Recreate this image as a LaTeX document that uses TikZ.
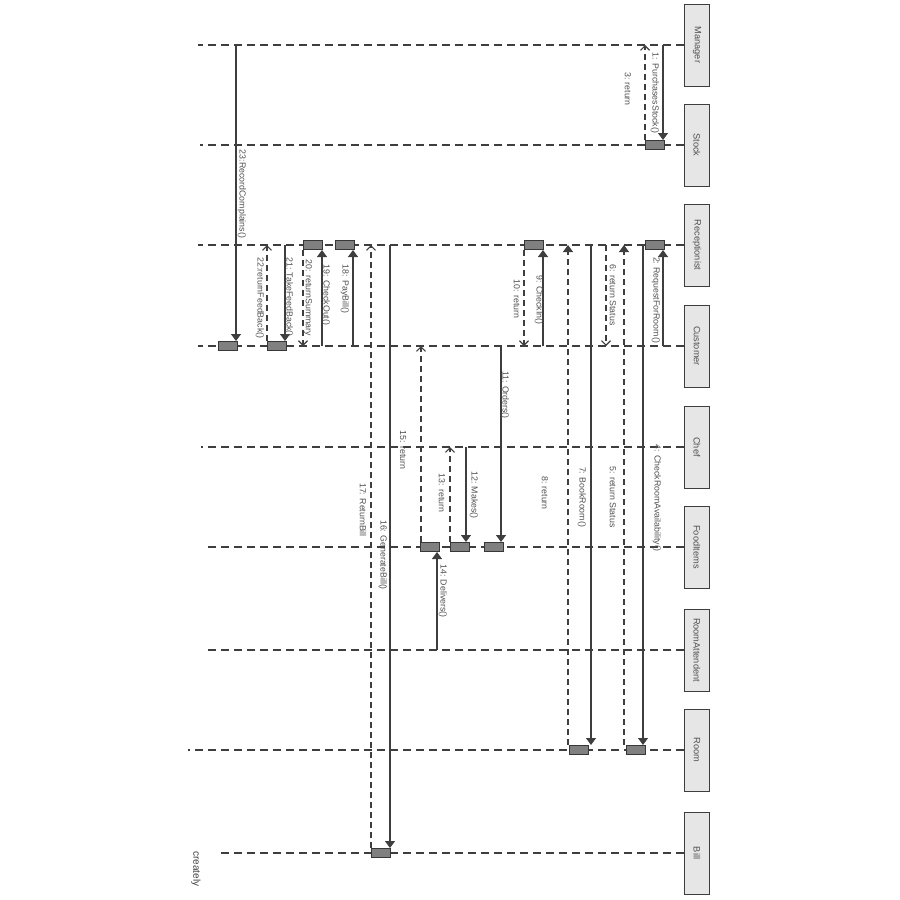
\documentclass[tikz,border=0pt]{standalone}
\usepackage{fontspec}
\setmainfont{Liberation Sans}
\definecolor{SeqBox}{RGB}{230,230,230}
\definecolor{SeqLine}{RGB}{62,62,62}
\definecolor{SeqDark}{RGB}{55,55,55}
\definecolor{SeqAct}{RGB}{128,128,128}
\definecolor{SeqText}{RGB}{80,80,80}
\usetikzlibrary{
    arrows.meta,
    positioning,
}

\begin{document}
\begin{tikzpicture}[x=1pt, y=-1pt,
    actor/.style={rectangle, draw=SeqLine, fill=SeqBox, line width=1pt, minimum width=82pt, minimum height=25pt, rotate=-90, font=\fontsize{9.2}{10}\selectfont, text=SeqText},
    act/.style={rectangle, draw=SeqDark, fill=SeqAct, line width=1pt, minimum width=19pt, minimum height=9pt, inner sep=0pt},
    life/.style={draw=SeqLine, line width=1.1pt, dash pattern=on 8pt off 5pt},
    call/.style={draw=SeqLine, line width=1.1pt, -{Triangle[width=10pt,length=7pt]}},
    ret/.style={draw=SeqLine, line width=1.1pt, dash pattern=on 6pt off 4pt, -{Straight Barb[width=9pt,length=4.5pt]}},
    retfull/.style={draw=SeqLine, line width=1.1pt, dash pattern=on 6pt off 4pt, -{Triangle[width=10pt,length=7pt]}},
    lbl/.style={rotate=-90, font=\fontsize{8.8}{10}\selectfont, text=SeqText, inner sep=0pt}
]
    \useasboundingbox (0,0) rectangle (900,900);
    % participants
    \node[actor] (manager) at (697,45)  {Manager};
    \node[actor] (stock)   at (697,145) {Stock};
    \node[actor] (recep)   at (697,245) {Receptionist};
    \node[actor] (customer) at (697,346) {Customer};
    \node[actor] (chef)    at (697,447) {Chef};
    \node[actor] (food)    at (697,547) {FoodItems};
    \node[actor] (attend)  at (697,650) {RoomAttendent};
    \node[actor] (room)    at (697,750) {Room};
    \node[actor] (bill)    at (697,853) {Bill};
    % lifelines
    \coordinate (manager-end) at (198,45);
    \coordinate (stock-end) at (200,145);
    \coordinate (recep-end) at (198,245);
    \coordinate (customer-end) at (198,346);
    \coordinate (chef-end) at (201,447);
    \coordinate (food-end) at (205,547);
    \coordinate (attend-end) at (208,650);
    \coordinate (room-end) at (188,750);
    \coordinate (bill-end) at (219,853);
    \draw[life] (manager.south) -- (manager-end);
    \draw[life] (stock.south) -- (stock-end);
    \draw[life] (recep.south) -- (recep-end);
    \draw[life] (customer.south) -- (customer-end);
    \draw[life] (chef.south) -- (chef-end);
    \draw[life] (food.south) -- (food-end);
    \draw[life] (attend.south) -- (attend-end);
    \draw[life] (room.south) -- (room-end);
    \draw[life] (bill.south) -- (bill-end);
    % activations
    \node[act] (a1)  at (654.5,0 |- stock.south) {};
    \node[act] (a2)  at (654.5,0 |- recep.south) {};
    \node[act] (a4)  at (635.5,0 |- room.south) {};
    \node[act] (a7)  at (578.5,0 |- room.south) {};
    \node[act] (a9)  at (533.5,0 |- recep.south) {};
    \node[act] (a11) at (493.5,0 |- food.south) {};
    \node[act] (a12) at (459.5,0 |- food.south) {};
    \node[act] (a14) at (430,0 |- food.south) {};
    \node[act] (a16) at (380.5,0 |- bill.south) {};
    \node[act] (a18) at (344.5,0 |- recep.south) {};
    \node[act] (a19) at (312.5,0 |- recep.south) {};
    \node[act] (a21) at (276.5,0 |- customer.south) {};
    \node[act] (a23) at (227.5,0 |- customer.south) {};
    % messages
    \draw[call] (663,0 |- manager.south) -- (663,0 |- a1.north);
    \draw[ret] (645,0 |- a1.north) -- (645,0 |- manager.south);
    \draw[call] (663,0 |- customer.south) -- (663,0 |- a2.south);
    \draw[call] (643,0 |- recep.south) -- (643,0 |- a4.north);
    \draw[retfull] (624,0 |- a4.north) -- (624,0 |- recep.south);
    \draw[ret] (606,0 |- recep.south) -- (606,0 |- customer.south);
    \draw[call] (591,0 |- recep.south) -- (591,0 |- a7.north);
    \draw[retfull] (568,0 |- a7.north) -- (568,0 |- recep.south);
    \draw[call] (543,0 |- customer.south) -- (543,0 |- a9.south);
    \draw[ret] (524,0 |- a9.south) -- (524,0 |- customer.south);
    \draw[call] (501,0 |- customer.south) -- (501,0 |- a11.north);
    \draw[call] (466,0 |- chef.south) -- (466,0 |- a12.north);
    \draw[ret] (450,0 |- a12.north) -- (450,0 |- chef.south);
    \draw[call] (437,0 |- attend.south) -- (437,0 |- a14.south);
    \draw[ret] (421,0 |- a14.north) -- (421,0 |- customer.south);
    \draw[call] (390,0 |- recep.south) -- (390,0 |- a16.north);
    \draw[ret] (371,0 |- a16.north) -- (371,0 |- recep.south);
    \draw[call] (353,0 |- customer.south) -- (353,0 |- a18.south);
    \draw[call] (322,0 |- customer.south) -- (322,0 |- a19.south);
    \draw[ret] (303,0 |- a19.south) -- (303,0 |- customer.south);
    \draw[call] (285,0 |- recep.south) -- (285,0 |- a21.north);
    \draw[ret] (267,0 |- a21.north) -- (267,0 |- recep.south);
    \draw[call] (236,0 |- manager.south) -- (236,0 |- a23.north);
    % message labels
    \node[lbl] (l1)  at (655,93)  {1: PurchasesStock()};
    \node[lbl] (l2)  at (656,300) {2: RequestForRoom()};
    \node[lbl] (l3)  at (628,89)  {3: return};
    \node[lbl] (l4)  at (657,498) {4: CheckRoomAvailability()};
    \node[lbl] (l5)  at (613,497) {5: return Status};
    \node[lbl] (l6)  at (613,295) {6: return Status};
    \node[lbl] (l7)  at (582,497) {7: BookRoom()};
    \node[lbl] (l8)  at (545,493) {8: return};
    \node[lbl] (l9)  at (539,300) {9: CheckIn()};
    \node[lbl] (l10) at (517,299) {10: return};
    \node[lbl] (l11) at (505,395) {11: Orders()};
    \node[lbl] (l12) at (474,495) {12: Makes()};
    \node[lbl] (l13) at (442,493) {13: return};
    \node[lbl] (l14) at (443,591) {14: Delivers()};
    \node[lbl] (l15) at (403,450) {15: return};
    \node[lbl] (l16) at (383,555) {16: GenerateBill()};
    \node[lbl] (l17) at (363,510) {17: ReturnBill};
    \node[lbl] (l18) at (345,289) {18: PayBill()};
    \node[lbl] (l19) at (326,295) {19: CheckOut()};
    \node[lbl] (l20) at (308,298) {20: returnSummary};
    \node[lbl] (l21) at (289,297) {21: TakeFeedBack()};
    \node[lbl] (l22) at (260,298) {22:returnFeedBack()};
    \node[lbl] (l23) at (242,194) {23:RecordComplains()};
    % logo
    \node[lbl, font=\fontsize{10}{11}\selectfont, text=SeqLine] (logo) at (196,869) {creately};
\end{tikzpicture}
\end{document}
